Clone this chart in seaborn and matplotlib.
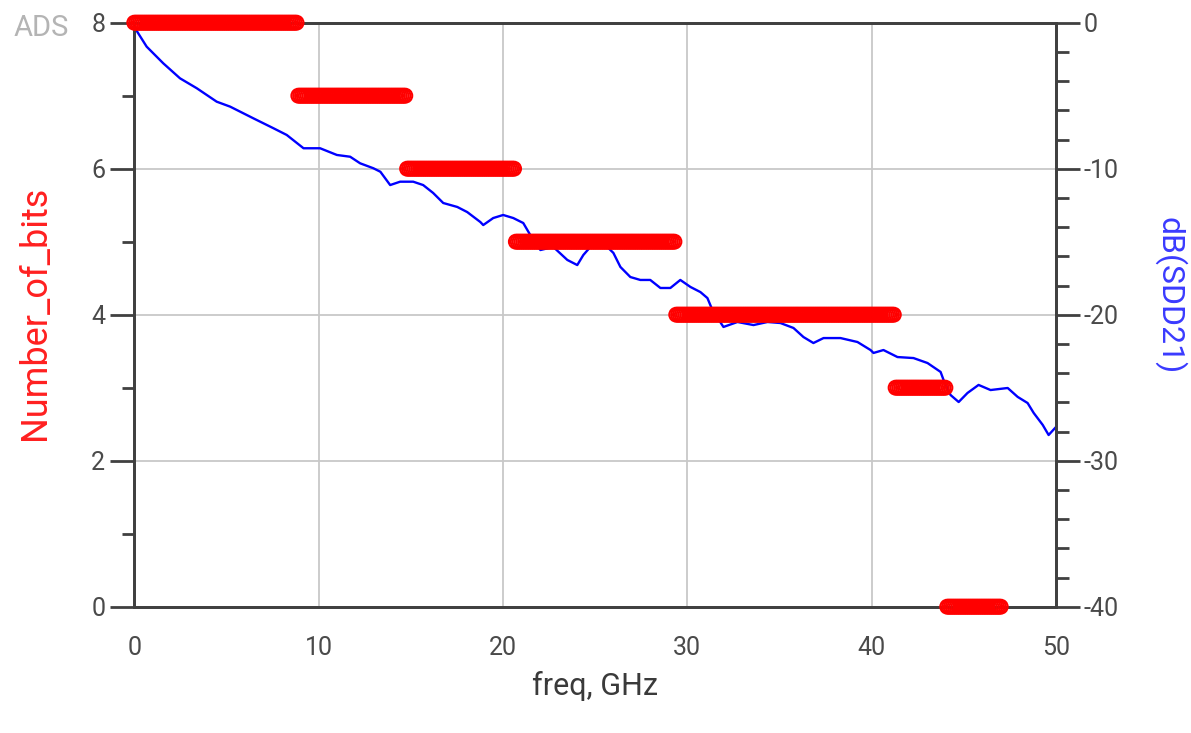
import numpy as np
import pandas as pd
import matplotlib
matplotlib.use("Agg")
import matplotlib.pyplot as plt
import seaborn as sns
from matplotlib.ticker import MultipleLocator

# ---- Number_of_bits (step data: frequency ranges in GHz and bit count) ----
seg_start = [0.0, 8.9, 14.8, 20.7, 29.4, 41.3, 44.1]
seg_end = [8.8, 14.7, 20.6, 29.3, 41.2, 44.0, 47.0]
seg_bits = [8, 7, 6, 5, 4, 3, 0]
freq_step = 0.1  # simulation frequency step (GHz)

# ---- dB(SDD21) trace ----
sdd21_freq = [0.0, 0.67, 1.57, 2.48, 3.39, 4.47, 5.20, 6.46, 7.55, 8.27, 9.18, 10.08,
              10.99, 11.71, 12.25, 12.97, 13.35, 13.88, 14.42, 15.13, 15.67, 16.21,
              16.76, 17.52, 18.06, 18.77, 18.93, 19.47, 20.01, 20.56, 21.10, 21.48,
              22.03, 22.73, 23.49, 24.03, 24.36, 24.74, 25.66, 25.99, 26.37, 26.91,
              27.45, 27.99, 28.54, 29.08, 29.62, 30.17, 30.71, 31.09, 31.36, 31.96,
              32.72, 33.59, 34.35, 35.05, 35.76, 36.30, 36.84, 37.39, 38.31, 39.23,
              39.94, 40.10, 40.64, 41.40, 42.27, 43.03, 43.74, 43.90, 44.28, 44.72,
              45.20, 45.80, 46.45, 47.38, 47.92, 48.46, 48.79, 49.28, 49.60, 50.0]
sdd21_db = [-0.3, -1.64, -2.78, -3.81, -4.49, -5.41, -5.75, -6.55, -7.23, -7.69, -8.60, -8.60,
            -9.06, -9.18, -9.63, -9.97, -10.21, -11.12, -10.89, -10.89, -11.12, -11.66,
            -12.35, -12.62, -12.97, -13.65, -13.86, -13.38, -13.17, -13.38, -13.72, -14.54,
            -15.57, -15.36, -16.25, -16.60, -15.91, -15.36, -15.36, -15.77, -16.73, -17.42,
            -17.62, -17.62, -18.17, -18.17, -17.62, -18.10, -18.45, -18.86, -19.68, -20.84,
            -20.50, -20.71, -20.50, -20.57, -20.91, -21.53, -21.94, -21.60, -21.60, -21.87,
            -22.42, -22.62, -22.42, -22.90, -22.97, -23.31, -23.92, -24.47, -25.50, -25.98,
            -25.36, -24.81, -25.16, -25.02, -25.63, -26.05, -26.73, -27.55, -28.24, -27.69]

x_major = [0, 10, 20, 30, 40, 50]
left_major = [0, 2, 4, 6, 8]
right_major = [-40, -30, -20, -10, 0]

# build step table on the simulation grid
rows = []
for s, e, b in zip(seg_start, seg_end, seg_bits):
    for f in np.arange(s, e + freq_step / 2, freq_step):
        rows.append((round(f, 3), b))
bits_df = pd.DataFrame(rows, columns=["freq", "bits"])
sdd_df = pd.DataFrame({"freq": sdd21_freq, "db": sdd21_db})

sns.set_style("white")
plt.rcParams["font.family"] = ["Roboto", "DejaVu Sans"]
plt.rcParams["axes.unicode_minus"] = False

AX_COL = "#404040"
LBL_COL = "#4a4a4a"
GRID_COL = "#c8c8c8"

fig = plt.figure(figsize=(11.91, 7.33), dpi=100)
fig.patch.set_facecolor("white")
ax = fig.add_axes([134.3 / 1191, 1 - 606.7 / 733, (1056 - 134.3) / 1191, (606.7 - 22.7) / 733])
ax2 = ax.twinx()

# layering: ax2 (grid + blue line) below, ax (markers) on top
ax.set_zorder(2)
ax2.set_zorder(1)
ax.patch.set_visible(False)
ax2.patch.set_visible(True)
ax2.patch.set_facecolor("white")

# blue trace on right axis
sns.lineplot(data=sdd_df, x="freq", y="db", ax=ax2, color="#0000ff", lw=1.7,
             estimator=None, sort=False, legend=False)

# red markers on left axis
sns.scatterplot(data=bits_df, x="freq", y="bits", ax=ax, marker="o", s=100,
                color="red", edgecolor="red", linewidth=1.5, legend=False,
                clip_on=False, zorder=3)
ax.collections[-1].set_facecolor("none")

# limits & ticks
ax.set_xlim(0, 50)
ax.set_ylim(0, 8)
ax2.set_ylim(-40, 0)
ax.set_xticks(x_major)
ax.xaxis.set_minor_locator(MultipleLocator(2))
ax.set_yticks(left_major)
ax.yaxis.set_minor_locator(MultipleLocator(1))
ax2.set_yticks(right_major)
ax2.yaxis.set_minor_locator(MultipleLocator(2))

ax.tick_params(axis="both", which="major", direction="out", length=17, width=2,
               color=AX_COL, labelcolor=LBL_COL, labelsize=18, pad=4)
ax.tick_params(axis="both", which="minor", direction="out", length=9, width=2, color=AX_COL)
ax.tick_params(top=False, right=False, which="both")
ax2.tick_params(axis="y", which="major", direction="out", length=17, width=2,
                color=AX_COL, labelcolor=LBL_COL, labelsize=18, pad=3)
ax2.tick_params(axis="y", which="minor", direction="out", length=9, width=2, color=AX_COL)

# grid on lower axes
ax2.xaxis.set_visible(True)
ax2.tick_params(axis="x", which="both", bottom=False, top=False, labelbottom=False, labeltop=False)
ax2.grid(True, which="major", color=GRID_COL, lw=1.3)
ax.grid(False)

for a in (ax, ax2):
    for sp in a.spines.values():
        sp.set_color(AX_COL)
        sp.set_linewidth(2)
    a.set_xlabel("")
    a.set_ylabel("")

fig.text(595 / 1191, 1 - 686 / 733, "freq, GHz", ha="center", va="center",
         fontsize=22, color="#3a3a3a")
fig.text(35 / 1191, 1 - 313 / 733, "Number_of_bits", ha="center", va="center",
         rotation=90, fontsize=26, color="#ff2020")
fig.text(1170 / 1191, 1 - 296 / 733, "dB(SDD21)", ha="center", va="center",
         rotation=270, fontsize=23, color="#3a3aff")
fig.text(14 / 1191, 1 - 28 / 733, "ADS", ha="left", va="center",
         fontsize=21, color="#b4b4b4")

fig.savefig("out.png", dpi=100, facecolor="white")
